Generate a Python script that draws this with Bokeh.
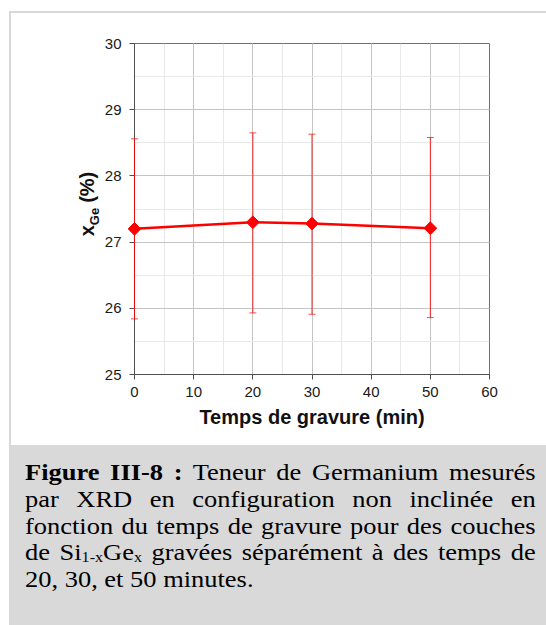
import math
import re
from bokeh.plotting import figure
from bokeh.models import Range1d, ColumnDataSource, Div, SingleIntervalTicker
from bokeh.layouts import column, row
from bokeh.embed import file_html
from bokeh.resources import INLINE

# ---- data ----
temps = [0, 20, 30, 50]
x_ge = [27.20, 27.30, 27.28, 27.21]
err_upper = [28.56, 28.65, 28.63, 28.58]
err_lower = [25.84, 25.93, 25.91, 25.86]
x_range = (0, 60)
y_range = (25, 30)
x_label = "Temps de gravure (min)"
y_label_main = "x"
y_label_sub = "Ge"
y_label_rest = "(%)"
caption_bold = "Figure III-8 :"
caption_text = ("Teneur de Germanium mesurés par XRD en configuration non inclinée en fonction "
                "du temps de gravure pour des couches de Si<sub>1-x</sub>Ge<sub>x</sub> gravées "
                "séparément à des temps de 20, 30, et 50 minutes.")

FONT = "Liberation Sans"
RED = "#ff0000"
PANEL_BORDER = "#d9d9d9"

src = ColumnDataSource(dict(x=temps, y=x_ge, upper=err_upper, lower=err_lower))

p = figure(output_backend="svg", toolbar_location=None,
           frame_width=355, frame_height=329,
           min_border_left=34, min_border_top=30, min_border_right=57, min_border_bottom=73,
           x_range=Range1d(*x_range), y_range=Range1d(*y_range),
           background_fill_color="white", border_fill_color="white",
           margin=(11, 0, 0, 0))
p.styles = {"border-top": "2px solid " + PANEL_BORDER}

p.xaxis.ticker = SingleIntervalTicker(interval=10, num_minor_ticks=2)
p.yaxis.ticker = SingleIntervalTicker(interval=1, num_minor_ticks=2)
for ax in (p.xaxis, p.yaxis):
    ax.axis_line_color = "#505050"
    ax.major_tick_line_color = "#505050"
    ax.major_tick_out = 5
    ax.major_tick_in = 0
    ax.minor_tick_line_color = None
    ax.major_label_text_font = FONT
    ax.major_label_text_font_size = "15px"
    ax.major_label_text_color = "#1a1a1a"
p.xaxis.major_label_standoff = 7
p.yaxis.major_label_standoff = 8
p.xaxis.axis_label = x_label
p.xaxis.axis_label_text_font = FONT
p.xaxis.axis_label_text_font_size = "20px"
p.xaxis.axis_label_text_font_style = "bold"
p.xaxis.axis_label_text_color = "#111111"
p.xaxis.axis_label_standoff = 6

p.outline_line_color = "#707070"
p.outline_line_width = 1
for g in (p.xgrid, p.ygrid):
    g.grid_line_color = "#c4c4c4"
    g.minor_grid_line_color = "#e8e8e8"

# error bars: vertical segments + caps
p.segment(x0="x", y0="lower", x1="x", y1="upper", source=src, line_color=RED, line_width=1,
          line_alpha=0.85, level="annotation")
p.scatter("x", "upper", source=src, marker="dash", size=7, line_color=RED, line_width=1,
          line_alpha=0.7, level="annotation")
p.scatter("x", "lower", source=src, marker="dash", size=7, line_color=RED, line_width=1,
          line_alpha=0.7, level="annotation")
p.line("x", "y", source=src, line_color=RED, line_width=2.5, level="annotation")
p.scatter("x", "y", source=src, marker="square", angle=math.pi / 4, size=9,
          fill_color=RED, line_color=RED, level="annotation")

# y-axis title (with subscript) + panel left/top border
ytitle_html = (
    '<div style="position:relative;width:100px;height:445px;">'
    '<div style="position:absolute;left:9px;top:11px;width:91px;height:434px;box-sizing:border-box;'
    'border-left:2px solid ' + PANEL_BORDER + ';border-top:2px solid ' + PANEL_BORDER + ';"></div>'
    '<div style="position:absolute;left:87px;top:204px;transform:translate(-50%,-50%) rotate(-90deg);'
    'white-space:nowrap;font-family:\'Liberation Sans\',sans-serif;font-weight:bold;font-size:20px;'
    'line-height:22px;color:#111;">'
    '<span>' + y_label_main + '</span><sub style="font-size:13px;line-height:0;">' + y_label_sub
    + '</sub><span style="margin-left:5px;">' + y_label_rest + '</span></div></div>')
ydiv = Div(text=ytitle_html, width=100, height=445, margin=(0, 0, 0, 0))


def wrap_words(text, bold=False):
    out = []
    for word in text.split(" "):
        parts = re.split(r'(<sub>.*?</sub>)', word)
        pieces = []
        for part in parts:
            if not part:
                continue
            if part.startswith("<sub>"):
                pieces.append(part.replace(
                    '<sub>', '<sub style="font-size:14px;line-height:0;vertical-align:-2px;">'))
            else:
                pieces.append(('<b>%s</b>' if bold else '<span>%s</span>') % part)
        out.append("".join(pieces))
    return " ".join(out)


cap_html = (
    '<div style="position:relative;width:537px;height:180px;background:#d9d9d9;overflow:hidden;">'
    '<div style="position:absolute;left:16px;top:15px;width:444px;transform:scaleX(1.15);'
    'transform-origin:0 0;font-family:\'Liberation Serif\',serif;font-size:23px;line-height:26.8px;'
    'text-align:justify;color:#000;">'
    + wrap_words(caption_bold, bold=True) + ' ' + wrap_words(caption_text) +
    '</div></div>')
cap = Div(text=cap_html, width=537, height=180, margin=(0, 0, 0, 9))

layout = column(row(ydiv, p, spacing=0), cap, spacing=0)
open("out.html", "w").write(file_html(layout, INLINE))
